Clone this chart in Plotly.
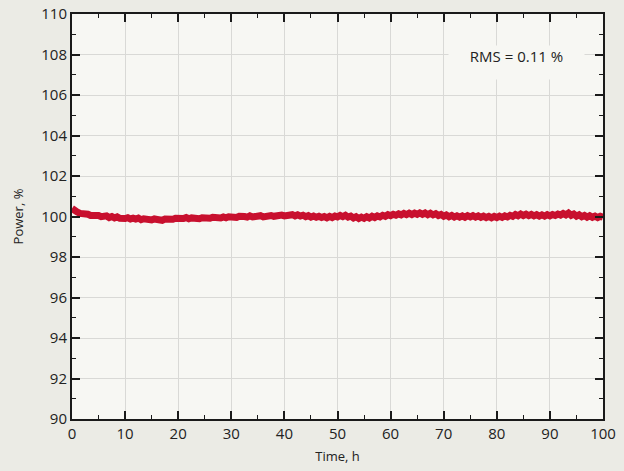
#!/usr/bin/env python3
"""Power stability over 100 h run, RMS annotation."""

import plotly.graph_objects as go

# Colours / fonts
COLORS = {
    'paper': '#ebebe5',
    'plot': '#f7f7f3',
    'grid': '#d9d9d6',
    'axis': '#1a1a1a',
    'line': '#c8102e',
    'text': '#222222',
}
FONT_FAMILY = "Open Sans, Noto Sans, sans-serif"

# Data: power readings every 0.5 h
time_h = [i * 0.5 for i in range(201)]
power_pct = [
    100.40, 100.26, 100.22, 100.15, 100.16, 100.10, 100.11, 100.05, 100.07, 100.02,
    100.05, 99.99, 100.02, 100.03, 99.95, 100.00, 99.93, 99.98, 99.91, 99.95,
    99.90, 99.94, 99.88, 99.92, 99.87, 99.92, 99.84, 99.89, 99.85, 99.88,
    99.83, 99.88, 99.83, 99.87, 99.81, 99.87, 99.84, 99.89, 99.86, 99.91,
    99.88, 99.93, 99.90, 99.95, 99.89, 99.93, 99.90, 99.95, 99.89, 99.94,
    99.91, 99.96, 99.91, 99.96, 99.92, 99.95, 99.93, 99.98, 99.94, 99.99,
    99.95, 100.00, 99.95, 100.01, 99.96, 100.00, 99.97, 100.03, 99.98, 100.02,
    99.99, 100.04, 99.98, 100.03, 100.00, 100.05, 100.01, 100.06, 100.02, 100.07,
    100.03, 100.08, 100.04, 100.09, 100.03, 100.08, 100.02, 100.06, 99.99, 100.04,
    99.97, 100.02, 99.96, 100.01, 99.95, 100.00, 99.94, 100.01, 99.95, 100.02,
    99.98, 100.05, 99.99, 100.06, 99.97, 100.02, 99.93, 99.99, 99.90, 99.97,
    99.91, 99.99, 99.93, 100.01, 99.95, 100.03, 99.98, 100.06, 100.01, 100.09,
    100.04, 100.11, 100.06, 100.13, 100.08, 100.15, 100.09, 100.16, 100.10, 100.17,
    100.11, 100.18, 100.11, 100.17, 100.09, 100.16, 100.08, 100.14, 100.05, 100.10,
    100.01, 100.07, 99.99, 100.05, 99.97, 100.03, 99.97, 100.03, 99.96, 100.04,
    99.98, 100.04, 99.97, 100.03, 99.96, 100.02, 99.95, 100.01, 99.94, 100.01,
    99.95, 100.02, 99.96, 100.03, 99.98, 100.06, 100.01, 100.10, 100.04, 100.12,
    100.05, 100.11, 100.04, 100.10, 100.03, 100.09, 100.02, 100.08, 100.02, 100.09,
    100.03, 100.10, 100.05, 100.12, 100.07, 100.15, 100.08, 100.17, 100.06, 100.12,
    100.02, 100.08, 99.99, 100.05, 99.97, 100.04, 99.96, 100.02, 99.95, 100.01,
    99.97,
]

RMS_TEXT = "RMS = 0.11 %"

fig = go.Figure()
fig.add_trace(go.Scatter(
    x=time_h,
    y=power_pct,
    mode='lines',
    line=dict(color=COLORS['line'], width=7),
    showlegend=False,
    hoverinfo='x+y',
))

axis_common = dict(
    showline=True,
    linecolor=COLORS['axis'],
    linewidth=2,
    mirror='allticks',
    ticks='inside',
    ticklen=8,
    tickwidth=1.5,
    tickcolor=COLORS['axis'],
    showgrid=True,
    gridcolor=COLORS['grid'],
    gridwidth=1,
    zeroline=False,
    automargin=False,
    tickfont=dict(size=15, color=COLORS['text']),
    minor=dict(ticks='inside', ticklen=4, tickwidth=1.2,
               tickcolor=COLORS['axis'], showgrid=False),
)

fig.update_xaxes(
    range=[0, 100], dtick=10,
    title=dict(text='Time, h', font=dict(size=13), standoff=10),
    **axis_common,
)
fig.update_xaxes(minor_dtick=5)
fig.update_yaxes(
    range=[90, 110], dtick=2,
    title=dict(text='Power, %', font=dict(size=13), standoff=15),
    **axis_common,
)
fig.update_yaxes(minor_dtick=1)

fig.add_annotation(
    x=83.7, y=107.62, xref='x', yref='y',
    text=RMS_TEXT,
    showarrow=False,
    font=dict(size=15, color=COLORS['text']),
    bgcolor=COLORS['plot'],
    width=135, height=33,
    valign='top',
    borderpad=0,
)

fig.update_layout(
    width=624, height=471,
    paper_bgcolor=COLORS['paper'],
    plot_bgcolor=COLORS['plot'],
    font=dict(family=FONT_FAMILY, color=COLORS['text']),
    margin=dict(l=72, r=21, t=14, b=52),
)

# drop the default page margin so the figure sits at the window's corner
fig.write_html("out.html", config={'displayModeBar': False},
               post_script="document.body.style.margin='0';")
